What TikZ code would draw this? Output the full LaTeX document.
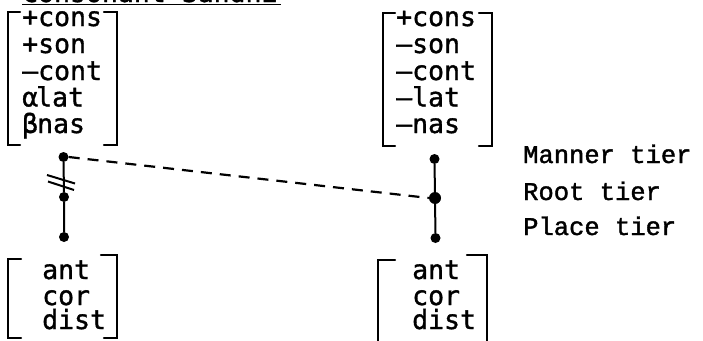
\documentclass[tikz,border=0pt]{standalone}
\usepackage{fontspec}
\newfontfamily\featfont[FakeBold=1.2]{DejaVu Sans Mono}
\newfontfamily\tierfont[FakeBold=1.5]{Liberation Mono}
\begin{document}
\begin{tikzpicture}[x=1pt,y=-1pt,
  feat/.style={anchor=base west,inner sep=0pt,font=\featfont\fontsize{26.5}{26.5}\selectfont},
  tierlab/.style={anchor=base west,inner sep=0pt,font=\tierfont\fontsize{25.5}{25.5}\selectfont},
  brk/.style={line width=2.3pt,line cap=round,line join=miter},
  dot/.style={circle,fill=black,inner sep=0pt,minimum size=10pt},
  bigdot/.style={circle,fill=black,inner sep=0pt,minimum size=12pt},
  assoc/.style={line width=2pt},
  dline/.style={line width=2.2pt,dash pattern=on 11pt off 8pt}]
\useasboundingbox (0,0) rectangle (703,340);
\clip (0,0) rectangle (703,340);
\fill[white] (0,0) rectangle (703,340);
% title (cut off at the top edge, as in the reference)
\node[feat] (title) at (22,2) {Consonant Sandhi};
\draw[line width=1.8pt] (22,4.5) -- (281,4.5);
% upper left matrix
\node[feat] (l1) at (22,26) {+cons};
\node[feat] (l2) at (22,53) {+son};
\node[feat] (l3) at (22,80) {–cont};
\node[feat] (l4) at (22,106.5) {α\kern-2ptlat};
\node[feat] (l5) at (22,133) {β\kern-1ptnas};
\draw[brk] (20,12) -- (8,12) -- (8,145) -- (20,145);
\draw[brk] (104,12) -- (117,12) -- (117,145) -- (104,145);
% upper right matrix
\node[feat] (r1) at (396,26) {+cons};
\node[feat] (r2) at (396,53) {–son};
\node[feat] (r3) at (396,80) {–cont};
\node[feat] (r4) at (396,106.5) {–lat};
\node[feat] (r5) at (396,133) {–nas};
\draw[brk] (395,13) -- (383,13) -- (383,146) -- (395,146);
\draw[brk] (479,13) -- (492,13) -- (492,146) -- (479,146);
% lower left matrix
\node[feat] (la) at (42,279) {ant};
\node[feat] (lc) at (42,305) {cor};
\node[feat] (ld) at (42,329) {dist};
\draw[brk] (21,259) -- (8,259) -- (8,338) -- (21,338);
\draw[brk] (101,255) -- (117,255) -- (117,338) -- (104,338);
% lower right matrix
\node[feat] (ra) at (412,279) {ant};
\node[feat] (rc) at (412,305) {cor};
\node[feat] (rd) at (412,329) {dist};
\draw[brk] (395,260) -- (378,260) -- (378,342);
\draw[brk] (467,255) -- (487,255) -- (487,342);
% tier nodes
\node[dot] (lm) at (63.5,157) {};
\node[dot] (lr) at (64,197) {};
\node[dot] (lp) at (64,237) {};
\node[dot] (rm) at (434.5,159) {};
\node[bigdot] (rr) at (435,198) {};
\node[dot] (rp) at (435.5,238) {};
\draw[assoc] (lm) -- (lr) -- (lp);
\draw[assoc] (rm) -- (rr) -- (rp);
\draw[dline] (lm.east) -- (rr.west);
% delinking marks
\coordinate (s1a) at (47,175); \coordinate (s1b) at (75,183.5);
\coordinate (s2a) at (48,181.5); \coordinate (s2b) at (74,190);
\draw[line width=2pt] (s1a) -- (s1b);
\draw[line width=2pt] (s2a) -- (s2b);
% tier labels
\node[tierlab] (mt) at (523,163) {Manner tier};
\node[tierlab] (rt) at (523,200) {Root tier};
\node[tierlab] (pt) at (523,235) {Place tier};
\end{tikzpicture}
\end{document}
